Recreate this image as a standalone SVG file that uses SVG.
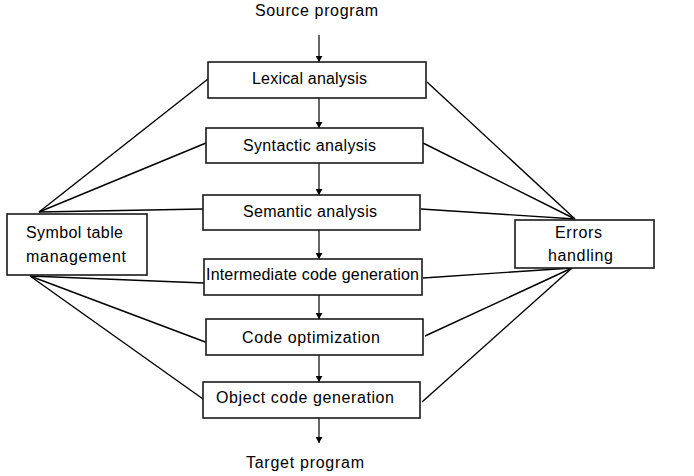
<svg xmlns="http://www.w3.org/2000/svg" width="694" height="476" viewBox="0 0 694 476">
<defs>
<marker id="ah" viewBox="0 0 6 7" refX="6" refY="3.5" markerWidth="6" markerHeight="7" orient="auto" markerUnits="userSpaceOnUse">
<path d="M0,0 L6,3.5 L0,7 z" fill="#000"/>
</marker>
</defs>
<style>
.box{fill:#fff;stroke:#1a1a1a;stroke-width:1.6}
.t{font-family:"Liberation Sans",Arial,sans-serif;font-size:16px;fill:#000}
.c{stroke:#000;stroke-width:1.4;fill:none}
.a{stroke:#000;stroke-width:1.2;fill:none;marker-end:url(#ah)}
</style>
<rect width="694" height="476" fill="#fff"/>
<g id="connectors">
<line class="a" x1="319" y1="35" x2="319" y2="62"/>
<line class="a" x1="319" y1="98" x2="319" y2="128"/>
<line class="a" x1="319" y1="163" x2="319" y2="195"/>
<line class="a" x1="319" y1="230" x2="319" y2="259"/>
<line class="a" x1="319" y1="295" x2="319" y2="319"/>
<line class="a" x1="319" y1="355" x2="319" y2="382"/>
<line class="a" x1="319" y1="418" x2="319" y2="443"/>
<line class="c" x1="39" y1="212" x2="208" y2="79"/>
<line class="c" x1="39" y1="212" x2="206" y2="143"/>
<line class="c" x1="39" y1="212" x2="203" y2="209"/>
<line class="c" x1="30" y1="276" x2="204" y2="283"/>
<line class="c" x1="30" y1="276" x2="208" y2="343"/>
<line class="c" x1="30" y1="276" x2="203" y2="399"/>
<line class="c" x1="575" y1="219" x2="427" y2="82"/>
<line class="c" x1="575" y1="219" x2="423" y2="143"/>
<line class="c" x1="575" y1="219" x2="421" y2="209"/>
<line class="c" x1="572" y1="268" x2="423" y2="278"/>
<line class="c" x1="572" y1="268" x2="425" y2="336"/>
<line class="c" x1="572" y1="268" x2="422" y2="402"/>
</g>
<g id="source"><text class="t" x="255" y="16" textLength="123">Source program</text></g>
<g id="lexical"><rect class="box" x="208" y="62" width="218" height="36"/><text class="t" x="252" y="84" textLength="115">Lexical analysis</text></g>
<g id="syntactic"><rect class="box" x="206" y="128" width="217" height="35"/><text class="t" x="243" y="151" textLength="133">Syntactic analysis</text></g>
<g id="semantic"><rect class="box" x="203" y="195" width="217" height="35"/><text class="t" x="243" y="217" textLength="134">Semantic analysis</text></g>
<g id="intermediate"><rect class="box" x="204" y="259" width="218" height="36"/><text class="t" x="206" y="280" textLength="213">Intermediate code generation</text></g>
<g id="optimization"><rect class="box" x="206" y="319" width="217" height="36"/><text class="t" x="242" y="343" textLength="138">Code optimization</text></g>
<g id="object"><rect class="box" x="203" y="382" width="217" height="36"/><text class="t" x="216" y="403" textLength="178">Object code generation</text></g>
<g id="target"><text class="t" x="246" y="468" textLength="118">Target program</text></g>
<g id="symbol"><rect class="box" x="7" y="214" width="140" height="61"/><text class="t" x="26" y="238" textLength="97">Symbol table</text><text class="t" x="26" y="262" textLength="100">management</text></g>
<g id="errors"><rect class="box" x="515" y="220" width="139" height="48"/><text class="t" x="555" y="238" textLength="47">Errors</text><text class="t" x="548" y="261" textLength="65">handling</text></g>
</svg>
